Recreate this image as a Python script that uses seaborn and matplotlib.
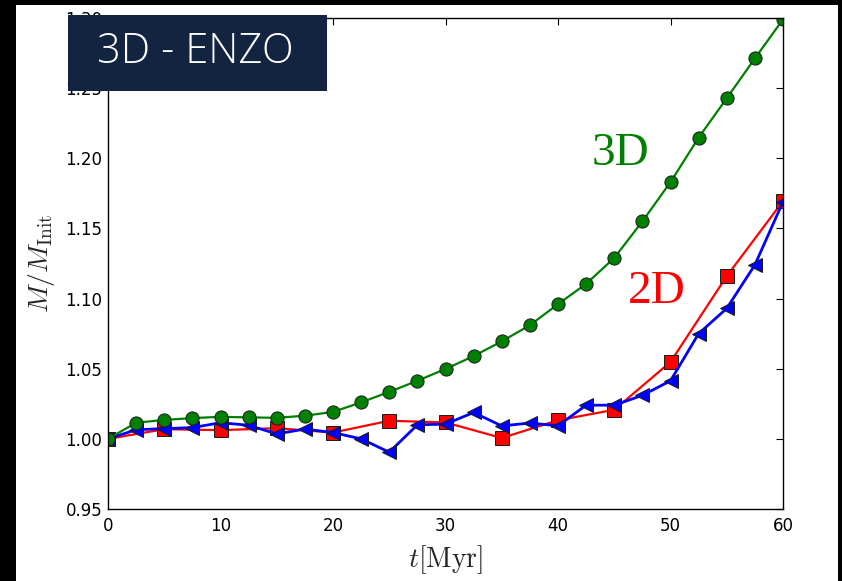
import matplotlib
matplotlib.use("Agg")
import matplotlib.pyplot as plt
from matplotlib.patches import Rectangle
import numpy as np
import pandas as pd
import seaborn as sns

# ---- data ----
t_3d = [0, 2.5, 5, 7.5, 10, 12.5, 15, 17.5, 20, 22.5, 25, 27.5, 30, 32.5, 35,
        37.5, 40, 42.5, 45, 47.5, 50, 52.5, 55, 57.5, 60]
m_3d = [1.000, 1.0115, 1.0135, 1.0148, 1.0157, 1.0153, 1.0150, 1.0165, 1.0192,
        1.0260, 1.0335, 1.0414, 1.0498, 1.0590, 1.0695, 1.0810, 1.0960, 1.1105,
        1.1290, 1.1550, 1.1830, 1.2147, 1.2428, 1.2712, 1.2990]

t_2d_a = [0, 5, 10, 15, 20, 25, 30, 35, 40, 45, 50, 55, 60]
m_2d_a = [1.000, 1.0069, 1.0062, 1.0076, 1.0045, 1.0129, 1.0117, 1.0006,
          1.0133, 1.0207, 1.0548, 1.1160, 1.1695]

t_2d_b = [0, 2.5, 5, 7.5, 10, 12.5, 15, 17.5, 20, 22.5, 25, 27.5, 30, 32.5, 35,
          37.5, 40, 42.5, 45, 47.5, 50, 52.5, 55, 57.5, 60]
m_2d_b = [1.000, 1.0065, 1.0073, 1.0080, 1.0115, 1.0097, 1.0035, 1.0070, 1.0045,
          1.0000, 0.9905, 1.0100, 1.0105, 1.0188, 1.0092, 1.0113, 1.0093, 1.0240,
          1.0240, 1.0310, 1.0414, 1.0750, 1.0930, 1.1240, 1.1690]

x_ticks = [0, 10, 20, 30, 40, 50, 60]
y_ticks = [0.95, 1.00, 1.05, 1.10, 1.15, 1.20, 1.25, 1.30]

sns.set_style("white")
plt.rcParams["mathtext.fontset"] = "cm"
plt.rcParams["font.family"] = ["DejaVu Sans"]

W, H = 842, 581
fig = plt.figure(figsize=(W / 100, H / 100), dpi=100, facecolor="black")

# white page area (slide background), black borders around
fig.add_artist(Rectangle((16 / W, 0), (838 - 16) / W, (H - 5) / H,
                         transform=fig.transFigure, facecolor="white",
                         edgecolor="none", zorder=0))

ax = fig.add_axes([108 / W, (H - 509) / H, (783 - 108) / W, (509 - 18) / H])
ax.set_facecolor("white")

common = dict(markeredgecolor="#1a1a1a", markeredgewidth=0.7, clip_on=True)
sns.lineplot(x=t_2d_a, y=m_2d_a, ax=ax, color="red", marker="s",
             markersize=9.5, linewidth=1.6, **common)
sns.lineplot(x=t_2d_b, y=m_2d_b, ax=ax, color="blue", marker="<",
             markersize=10.5, linewidth=2.0, **common)
sns.lineplot(x=t_3d, y=m_3d, ax=ax, color="green", marker="o",
             markersize=9.5, linewidth=1.6, **common)

ax.set_xlim(0, 60)
ax.set_ylim(0.95, 1.30)
ax.set_xticks(x_ticks)
ax.set_yticks(y_ticks)
ax.set_xticklabels([str(v) for v in x_ticks])
ax.set_yticklabels(["%.2f" % v for v in y_ticks])
ax.tick_params(axis="both", direction="in", length=5, width=0.8,
               top=True, right=True, labelsize=12, colors="black")
ax.tick_params(axis="x", pad=6)
ax.tick_params(axis="y", pad=4)
for s in ax.spines.values():
    s.set_visible(True)
    s.set_color("black")
    s.set_linewidth(1.0)

ax.set_xlabel(r"$t[\mathrm{Myr}]$", fontsize=20, labelpad=6)
ax.set_ylabel(r"$M/M_{\rm Init}$", fontsize=20, labelpad=6)

ax.text(620 / W, 1 - 154 / H, "3D", transform=fig.transFigure, color="green",
        fontsize=34, family=["Liberation Serif"], ha="center", va="center")
ax.text(657 / W, 1 - 292 / H, "2D", transform=fig.transFigure, color="red",
        fontsize=34, family=["Liberation Serif"], ha="center", va="center")

# title box overlay
fig.add_artist(Rectangle((68 / W, 1 - 91 / H), (327 - 68) / W, (91 - 15) / H,
                         transform=fig.transFigure, facecolor="#12243f",
                         edgecolor="none", zorder=10))
fig.text(195 / W, 1 - 52 / H, "3D - ENZO", color="white", fontsize=30,
         family=["Open Sans", "DejaVu Sans"], fontweight=300,
         ha="center", va="center", zorder=11)

fig.savefig("out.png", dpi=100, facecolor=fig.get_facecolor())
